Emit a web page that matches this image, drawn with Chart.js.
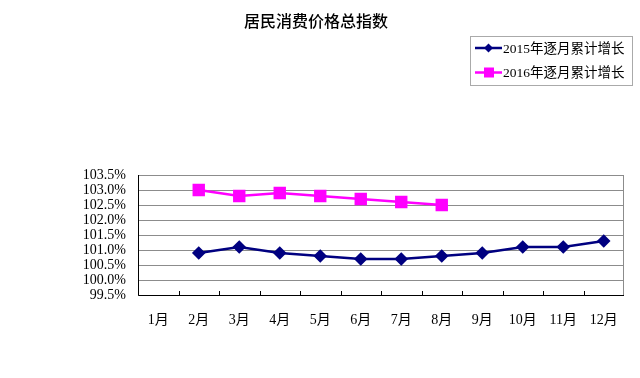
<!DOCTYPE html>
<html><head><meta charset="utf-8">
<script src="https://cdn.jsdelivr.net/npm/chart.js@4"></script>
<style>html,body{margin:0;padding:0;background:#fff}#wrap{width:640px;height:378px}</style>
</head><body><div id="wrap"><canvas id="c" width="640" height="378"></canvas></div>
<script>
const titleText = "居民消费价格总指数";
const categories = ["1月","2月","3月","4月","5月","6月","7月","8月","9月","10月","11月","12月"];
const series2015Label = "2015年逐月累计增长";
const series2015 = [null,100.9,101.1,100.9,100.8,100.7,100.7,100.8,100.9,101.1,101.1,101.3];
const series2016Label = "2016年逐月累计增长";
const series2016 = [null,103.0,102.8,102.9,102.8,102.7,102.6,102.5,null,null,null,null];
const yTicks = [99.5,100.0,100.5,101.0,101.5,102.0,102.5,103.0,103.5];

const SERIF = "'Liberation Serif','Noto Sans CJK SC',serif";

const decor = {
  id:'decor',
  afterDraw(chart){
    const ctx = chart.ctx, a = chart.chartArea, xs = chart.scales.x;
    ctx.save();
    ctx.strokeStyle = '#8c8c8c'; ctx.lineWidth = 1;
    ctx.strokeRect(a.left+0.5, a.top+0.5, a.right-a.left-1, a.bottom-a.top);
    ctx.strokeStyle = '#000';
    ctx.beginPath(); ctx.moveTo(a.left+0.5,a.top); ctx.lineTo(a.left+0.5,a.bottom+0.5); ctx.lineTo(a.right,a.bottom+0.5); ctx.stroke();
    const n = categories.length;
    const step = (xs.getPixelForValue(1)-xs.getPixelForValue(0));
    for(let i=1;i<n;i++){
      const x = Math.round(xs.getPixelForValue(i)-step/2)+0.5;
      ctx.beginPath(); ctx.moveTo(x,a.bottom); ctx.lineTo(x,a.bottom-4); ctx.stroke();
    }
    ctx.fillStyle='#000'; ctx.font = "500 16px 'Noto Sans CJK SC',sans-serif";
    ctx.textAlign='center'; ctx.textBaseline='middle';
    ctx.fillText(titleText, 316, 21);
    const lx=470, ly=36, lw=162, lh=49;
    ctx.setLineDash([1,1]); ctx.strokeStyle='#555';
    ctx.strokeRect(lx+0.5,ly+0.5,lw,lh);
    ctx.setLineDash([]);
    chart.data.datasets.forEach((ds,i)=>{
      const y = ly+12+i*24.5;
      ctx.strokeStyle = ds.borderColor; ctx.lineWidth=2.5;
      ctx.beginPath(); ctx.moveTo(475,y); ctx.lineTo(502,y); ctx.stroke();
      ctx.fillStyle = ds.borderColor;
      if(ds.pointStyle==='rect'){ ctx.fillRect(484,y-5,10,10); }
      else { ctx.beginPath(); ctx.moveTo(488.5,y-4.5); ctx.lineTo(493,y); ctx.lineTo(488.5,y+4.5); ctx.lineTo(484,y); ctx.closePath(); ctx.fill(); }
      ctx.fillStyle='#000'; ctx.font="13.5px "+SERIF; ctx.textAlign='left'; ctx.textBaseline='middle';
      ctx.fillText(ds.label, 503, y+1);
    });
    ctx.restore();
  }
};

new Chart(document.getElementById('c'),{
  type:'line',
  data:{labels:categories,datasets:[
    {label:series2015Label,data:series2015,borderColor:'#000080',backgroundColor:'#000080',borderWidth:2.5,pointStyle:'rectRot',pointRadius:5,pointHoverRadius:5,tension:0,spanGaps:false},
    {label:series2016Label,data:series2016,borderColor:'#ff00ff',backgroundColor:'#ff00ff',borderWidth:2.5,pointStyle:'rect',pointRadius:7,pointHoverRadius:7,tension:0}
  ]},
  options:{
    responsive:false,animation:false,devicePixelRatio:1,
    layout:{padding:{left:0,right:16,top:175,bottom:0}},
    plugins:{legend:{display:false},title:{display:false},tooltip:{enabled:false}},
    scales:{
      x:{offset:true,grid:{display:false,drawTicks:false},border:{display:false},
         ticks:{font:{size:14,family:SERIF},color:'#000',padding:17,maxRotation:0,autoSkip:false},
         afterFit(s){s.height=83;}},
      y:{min:99.5,max:103.5,afterBuildTicks(s){s.ticks=yTicks.map(v=>({value:v}));},
         grid:{color:'#8c8c8c',lineWidth:1,drawTicks:false},border:{display:false},
         ticks:{font:{size:14,family:SERIF},color:'#000',padding:12,autoSkip:false,callback:v=>v.toFixed(1)+'%'},
         afterFit(s){s.width=138;}}
    }
  },
  plugins:[decor]
});
</script></body></html>
